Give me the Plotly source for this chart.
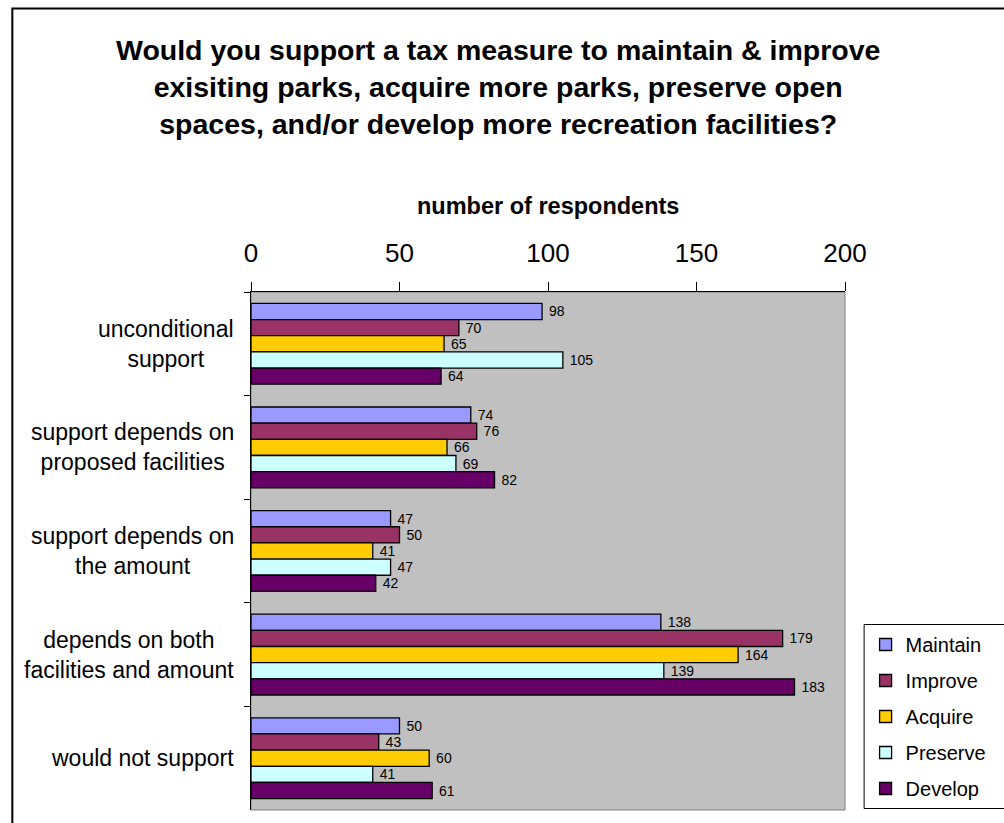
import plotly.graph_objects as go

categories = [
    "unconditional support",
    "support depends on proposed facilities",
    "support depends on the amount",
    "depends on both facilities and amount",
    "would not support",
]
category_labels = [
    "unconditional<br>support",
    "support depends on<br>proposed facilities",
    "support depends on<br>the amount",
    "depends on both<br>facilities and amount",
    "would not support",
]
series_names = ["Maintain", "Improve", "Acquire", "Preserve", "Develop"]
maintain = [98, 74, 47, 138, 50]
improve = [70, 76, 50, 179, 43]
acquire = [65, 66, 41, 164, 60]
preserve = [105, 69, 47, 139, 41]
develop = [64, 82, 42, 183, 61]
series_values = [maintain, improve, acquire, preserve, develop]
colors = ["#9999FF", "#993366", "#FFCC00", "#CCFFFF", "#660066"]
x_ticks = [0, 50, 100, 150, 200]

title_text = ("Would you support a tax measure to maintain &amp; improve<br>"
              "exisiting parks, acquire more parks, preserve open<br>"
              "spaces, and/or develop more recreation facilities?")
axis_title = "number of respondents"

FONT = "Liberation Sans, Arial, sans-serif"
W, H = 1004, 823
L, R, T, B = 251, 857, 292, 810  # plot area in pixels

def px_x(p):
    return (p - L) / (R - L)

def px_y(p):
    return (B - p) / (B - T)

fig = go.Figure()
for name, vals, col in zip(series_names, series_values, colors):
    fig.add_trace(go.Bar(
        y=categories, x=vals, name=name, orientation="h",
        marker=dict(color=col, line=dict(color="black", width=1.3)),
        text=["\u00a0" + str(v) for v in vals], textposition="outside",
        textfont=dict(family=FONT, size=14, color="black"),
        constraintext="none", cliponaxis=False, textangle=0,
        legendgroup=name,
    ))

annotations = []
for cat, lab in zip(categories, category_labels):
    annotations.append(dict(
        x=0, xref="paper", y=cat, yref="y", xanchor="right", yanchor="middle",
        xshift=-15, text=lab, showarrow=False, align="center",
        font=dict(family=FONT, size=23, color="black"),
    ))
annotations.append(dict(
    x=px_x(503), xref="paper", y=px_y(87), yref="paper",
    xanchor="center", yanchor="middle", text="<b>" + title_text + "</b>",
    showarrow=False, align="center",
    font=dict(family=FONT, size=28.5, color="black"),
))
annotations.append(dict(
    x=0.5, xref="paper", y=px_y(206), yref="paper",
    xanchor="center", yanchor="middle", text="<b>" + axis_title + "</b>",
    showarrow=False, font=dict(family=FONT, size=23.5, color="black"),
))

shapes = [
    # plot area border (gray)
    dict(type="rect", xref="paper", yref="paper", x0=0, x1=1, y0=0, y1=1,
         line=dict(color="#808080", width=1), layer="below"),
    # outer chart border
    dict(type="rect", xref="paper", yref="paper",
         x0=px_x(7.5), x1=px_x(1060), y0=px_y(860), y1=px_y(8.5),
         line=dict(color="black", width=2), layer="below"),
    # legend frame (runs past the right edge, as in the original)
    dict(type="rect", xref="paper", yref="paper",
         x0=px_x(876.5), x1=px_x(1040), y0=px_y(808.5), y1=px_y(624.5),
         line=dict(color="black", width=1), fillcolor="white", layer="above"),
]

fig.update_layout(
    width=W, height=H,
    margin=dict(l=L, r=W - R, t=T, b=H - B, pad=0),
    paper_bgcolor="white", plot_bgcolor="#C0C0C0",
    barmode="group", bargap=0.22, bargroupgap=0,
    showlegend=True,
    legend=dict(
        x=px_x(878), y=px_y(625), xanchor="left", yanchor="top",
        borderwidth=0, bgcolor="rgba(0,0,0,0)",
        font=dict(family=FONT, size=20, color="black"),
        traceorder="grouped", tracegroupgap=7,
    ),
    annotations=annotations, shapes=shapes,
    font=dict(family=FONT, color="black"),
)
fig.update_xaxes(
    side="top", range=[0, 200], tickvals=x_ticks,
    ticktext=[str(t) for t in x_ticks],
    ticks="outside", ticklen=9, tickcolor="black", tickwidth=1,
    showline=True, linecolor="black", linewidth=1, mirror=False,
    showgrid=False, zeroline=False, ticklabelstandoff=10,
    tickfont=dict(family=FONT, size=26, color="black"),
)
fig.update_yaxes(
    autorange="reversed", type="category",
    ticks="outside", tickson="boundaries", ticklen=6, tickcolor="black",
    showticklabels=False,
    showline=True, linecolor="black", linewidth=1, mirror=False,
    showgrid=False, zeroline=False,
)

fig.write_html("out.html", config={"displayModeBar": False},
               post_script="document.body.style.margin='0';document.body.style.overflow='hidden';")
